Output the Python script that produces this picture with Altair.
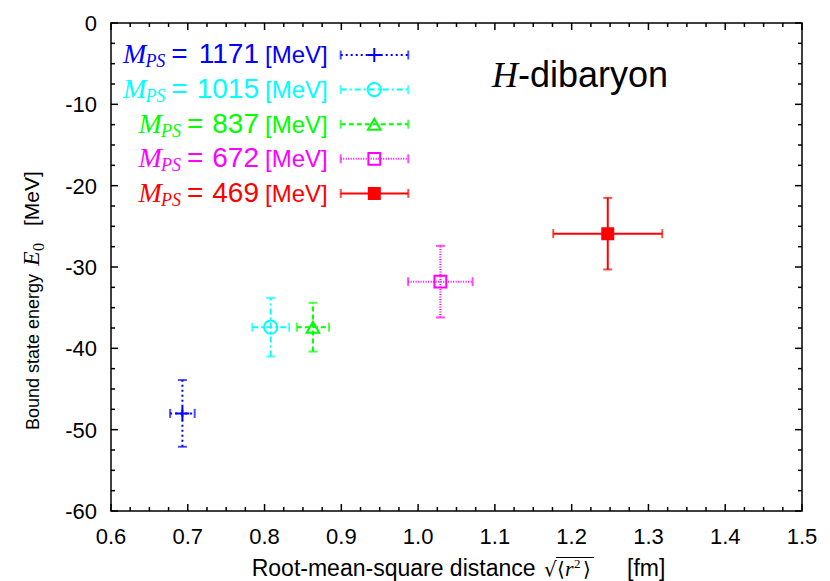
import altair as alt
import pandas as pd

# ---------------- data ----------------
series = ["1171", "1015", "837", "672", "469"]          # M_PS [MeV]
rms = [0.693, 0.808, 0.863, 1.029, 1.247]                # sqrt(<r^2>) [fm]
rms_err = [0.016, 0.024, 0.021, 0.042, 0.071]
energy = [-48.0, -37.4, -37.4, -31.8, -25.9]             # E0 [MeV]
energy_err = [4.1, 3.6, 3.0, 4.4, 4.4]

colors = ["#0000ff", "#00ffff", "#00ff00", "#ff00ff", "#ff0000"]
dashes = [[2, 3], [6, 3, 2, 3], [5, 3], [1, 1.5], [1, 0]]
shapes = ["M-1,0L1,0M0,-1L0,1", "circle", "triangle-up", "square", "square"]
sizes = [196, 121, 150, 160, 121]
fills = ["transparent", "transparent", "transparent", "transparent", "#ff0000"]

x_major = [0.6, 0.7, 0.8, 0.9, 1.0, 1.1, 1.2, 1.3, 1.4, 1.5]
y_major = [-60, -50, -40, -30, -20, -10, 0]
x_minor = [round(0.6 + 0.025 * i, 3) for i in range(37) if i % 4]
y_minor = [-60 + 2.5 * i for i in range(25) if i % 4]

W, H = 691, 488
X0, X1, Y0, Y1 = 0.6, 1.5, -60, 0


def px2x(px):
    return X0 + px / W * (X1 - X0)


def px2y(py):
    return Y1 - py / H * (Y1 - Y0)


SANS = "Liberation Sans"
SERIF = "Liberation Serif"

xs = alt.Scale(domain=[X0, X1], nice=False, zero=False)
ys = alt.Scale(domain=[Y0, Y1], nice=False, zero=False)

color = alt.Color("series:N", scale=alt.Scale(domain=series, range=colors), legend=None)
dash = alt.StrokeDash("series:N", scale=alt.Scale(domain=series, range=dashes), legend=None)
shape = alt.Shape("series:N", scale=alt.Scale(domain=series, range=shapes), legend=None)
size = alt.Size("series:N", scale=alt.Scale(domain=series, range=sizes), legend=None)
fill = alt.Fill("series:N", scale=alt.Scale(domain=series, range=fills), legend=None)

df = pd.DataFrame({"series": series, "x": rms, "xerr": rms_err, "y": energy, "yerr": energy_err})
df["xlo"] = df.x - df.xerr
df["xhi"] = df.x + df.xerr
df["ylo"] = df.y - df.yerr
df["yhi"] = df.y + df.yerr


def XQ(f):
    return alt.X(f, scale=xs, axis=None)


def YQ(f):
    return alt.Y(f, scale=ys, axis=None)


layers = []

# error bars
layers.append(alt.Chart(df).mark_rule(strokeWidth=2).encode(
    x=XQ("x:Q"), y=YQ("ylo:Q"), y2="yhi:Q", color=color, strokeDash=dash))
layers.append(alt.Chart(df).mark_rule(strokeWidth=2).encode(
    x=XQ("xlo:Q"), x2="xhi:Q", y=YQ("y:Q"), color=color, strokeDash=dash))

ycaps = pd.concat([df[["series", "x"]].assign(v=df.ylo), df[["series", "x"]].assign(v=df.yhi)])
xcaps = pd.concat([df[["series", "y"]].assign(v=df.xlo), df[["series", "y"]].assign(v=df.xhi)])
layers.append(alt.Chart(ycaps).mark_tick(orient="horizontal", size=9, thickness=2).encode(
    x=XQ("x:Q"), y=YQ("v:Q"), color=color))
layers.append(alt.Chart(xcaps).mark_tick(orient="vertical", size=9, thickness=2).encode(
    x=XQ("v:Q"), y=YQ("y:Q"), color=color))

layers.append(alt.Chart(df).mark_point(filled=False, strokeWidth=2, opacity=1).encode(
    x=XQ("x:Q"), y=YQ("y:Q"), color=color, shape=shape, size=size, fill=fill))

# ---------------- key (legend) ----------------
rows = list(range(len(series)))
leg = pd.DataFrame({
    "series": series,
    "x1": [px2x(229.7)] * 5, "x2": [px2x(297.3)] * 5, "xm": [px2x(263.3)] * 5,
    "y": [px2y(32 + 34.6 * i) for i in rows],
})
layers.append(alt.Chart(leg).mark_rule(strokeWidth=2).encode(
    x=XQ("x1:Q"), x2="x2:Q", y=YQ("y:Q"), color=color, strokeDash=dash))
lcaps = pd.concat([leg[["series", "y"]].assign(v=leg.x1), leg[["series", "y"]].assign(v=leg.x2)])
layers.append(alt.Chart(lcaps).mark_tick(orient="vertical", size=9, thickness=2).encode(
    x=XQ("v:Q"), y=YQ("y:Q"), color=color))
layers.append(alt.Chart(leg).mark_point(filled=False, strokeWidth=2, opacity=1).encode(
    x=XQ("xm:Q"), y=YQ("y:Q"), color=color, shape=shape, size=size, fill=fill))

NUM_FS, EQ_FS, PS_FS, M_FS, MEV_FS = 28, 28, 18, 28, 24
num_r = 148
txt = []
for i, s in enumerate(series):
    base_y = 40.3 + 34.6 * i
    num_l = num_r - 0.556 * NUM_FS * len(s)
    eq_r = num_l - 9
    eq_l = eq_r - 0.584 * EQ_FS
    ps_r = eq_l - 6
    ps_l = ps_r - 1.111 * PS_FS
    m_r = ps_l + 1
    txt.append(dict(series=s, piece="num", t=s, x=px2x(num_r), y=px2y(base_y)))
    txt.append(dict(series=s, piece="eq", t="=", x=px2x(eq_r), y=px2y(base_y)))
    txt.append(dict(series=s, piece="ps", t="PS", x=px2x(ps_r), y=px2y(base_y + 4)))
    txt.append(dict(series=s, piece="m", t="M", x=px2x(m_r), y=px2y(base_y)))
    txt.append(dict(series=s, piece="mev", t="[MeV]", x=px2x(154), y=px2y(base_y)))
tdf = pd.DataFrame(txt)


def key_text(piece, font, fs, align, italic=False):
    return alt.Chart(tdf).transform_filter(alt.datum.piece == piece).mark_text(
        font=font, fontSize=fs, align=align, baseline="alphabetic",
        fontStyle="italic" if italic else "normal").encode(
        x=XQ("x:Q"), y=YQ("y:Q"), text="t:N", color=color)


layers += [
    key_text("num", SANS, NUM_FS, "right"),
    key_text("eq", SANS, EQ_FS, "right"),
    key_text("ps", SERIF, PS_FS, "right", True),
    key_text("m", SERIF, M_FS, "right", True),
    key_text("mev", SANS, MEV_FS, "left"),
]


# ---------------- inward ticks on all four sides ----------------
def xticks(vals, length):
    d = pd.DataFrame({"v": vals})
    b = alt.Chart(d).mark_rule(color="black", strokeWidth=1.5)
    return [b.encode(x=XQ("v:Q"), y=alt.value(H), y2=alt.value(H - length)),
            b.encode(x=XQ("v:Q"), y=alt.value(0), y2=alt.value(length))]


def yticks(vals, length):
    d = pd.DataFrame({"v": vals})
    b = alt.Chart(d).mark_rule(color="black", strokeWidth=1.5)
    return [b.encode(y=YQ("v:Q"), x=alt.value(0), x2=alt.value(length)),
            b.encode(y=YQ("v:Q"), x=alt.value(W), x2=alt.value(W - length))]


layers += xticks(x_major, 7) + xticks(x_minor, 4) + yticks(y_major, 7) + yticks(y_minor, 4)

# ---------------- tick labels ----------------
layers.append(alt.Chart(pd.DataFrame({"v": x_major})).transform_calculate(
    lab="format(datum.v, '.1f')").mark_text(
    font=SANS, fontSize=22, align="center", baseline="alphabetic", color="black").encode(
    x=XQ("v:Q"), y=alt.value(H + 32.5), text="lab:N"))
layers.append(alt.Chart(pd.DataFrame({"v": y_major})).transform_calculate(
    lab="'' + datum.v").mark_text(
    font=SANS, fontSize=22, align="right", baseline="alphabetic", color="black", dy=8).encode(
    y=YQ("v:Q"), x=alt.value(-14), text="lab:N"))


# ---------------- annotations / axis titles ----------------
def label(text, x, y, font, fs, italic=False, angle=0, align="left"):
    kw = dict(text=text, font=font, fontSize=fs, align=align, baseline="alphabetic",
              color="black", fontStyle="italic" if italic else "normal")
    if angle:
        kw["angle"] = angle
    return alt.Chart().mark_text(**kw).encode(x=alt.value(x), y=alt.value(y))


TY = 553
SX = 433
layers += [
    label("H", 381, 63.7, SERIF, 36, italic=True),
    label("-dibaryon", 407, 63.7, SANS, 36),
    label("Root-mean-square distance", 140.7, TY, SANS, 23),
    label("\u221a", SX, TY, "DejaVu Serif", 20),
    label("\u27e8", SX + 13, TY, "DejaVu Serif", 20),
    label("r", SX + 21, TY, SERIF, 22, italic=True),
    label("2", SX + 30, TY - 8, SERIF, 13),
    label("\u27e9", SX + 39, TY, "DejaVu Serif", 20),
    alt.Chart().mark_rule(color="black", strokeWidth=1).encode(
        x=alt.value(SX + 12), x2=alt.value(SX + 50), y=alt.value(TY - 18.5)),
    label("[fm]", 516, TY, SANS, 23),
    label("Bound state energy", -72, 407, SANS, 18, angle=270),
    label("E", -72, 243, SERIF, 24, italic=True, angle=270),
    label("0", -67, 228, SERIF, 16, angle=270),
    label("[MeV]", -72, 203, SANS, 21, angle=270),
]

chart = alt.layer(*layers).properties(
    width=W, height=H,
    autosize=alt.AutoSizeParams(type="none"),
    padding={"left": 103, "top": 15, "right": 20, "bottom": 70},
).configure_view(stroke="black", strokeWidth=1.5)

chart.save("out.html", embed_options={"renderer": "svg", "actions": False})
